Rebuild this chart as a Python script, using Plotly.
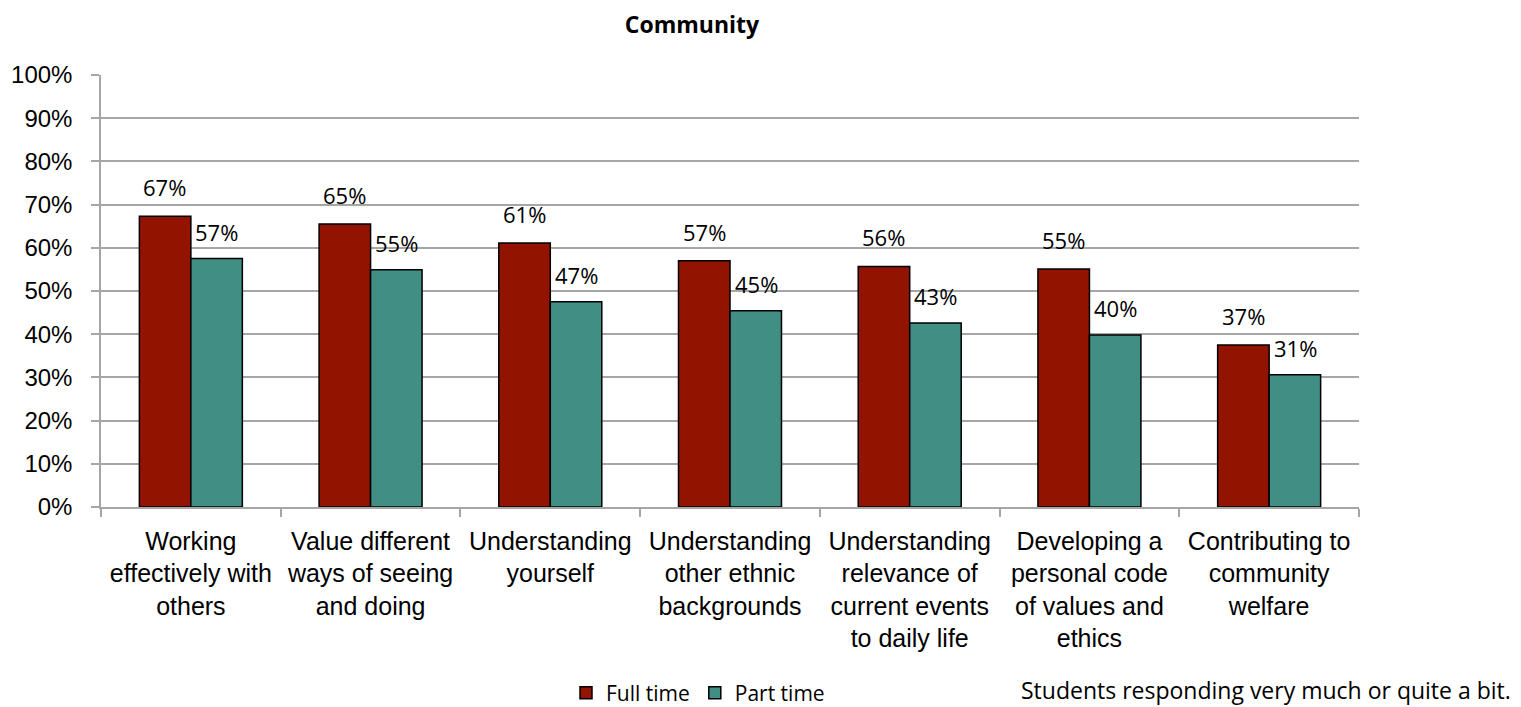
import plotly.graph_objects as go

categories = [
    "Working<br>effectively with<br>others",
    "Value different<br>ways of seeing<br>and doing",
    "Understanding<br>yourself",
    "Understanding<br>other ethnic<br>backgrounds",
    "Understanding<br>relevance of<br>current events<br>to daily life",
    "Developing a<br>personal code<br>of values and<br>ethics",
    "Contributing to<br>community<br>welfare",
]
full_time = [67.3, 65.5, 61.1, 57.0, 55.7, 55.1, 37.5]
part_time = [57.5, 54.9, 47.5, 45.4, 42.6, 39.8, 30.6]
full_labels = ["67%", "65%", "61%", "57%", "56%", "55%", "37%"]
part_labels = ["57%", "55%", "47%", "45%", "43%", "40%", "31%"]
y_ticks = list(range(0, 101, 10))
y_tick_text = [f"{v}%" for v in y_ticks]

RED = "#921300"
TEAL = "#418E85"
GRID = "#A6A6A6"

W, H = 1513, 699  # page body has an 8px margin

fig = go.Figure()
fig.add_trace(go.Bar(
    name="Full time", x=categories, y=full_time,
    marker=dict(color=RED, line=dict(color="black", width=1.5)),
))
fig.add_trace(go.Bar(
    name="Part time", x=categories, y=part_time,
    marker=dict(color=TEAL, line=dict(color="black", width=1.5)),
))

label_font = dict(family="Open Sans", size=22, color="black")
for c, v, t in zip(categories, full_time, full_labels):
    fig.add_annotation(x=c, y=v, text=t, xref="x", yref="y", showarrow=False,
                       xshift=-26, yshift=29, yanchor="middle", font=label_font)
for c, v, t in zip(categories, part_time, part_labels):
    fig.add_annotation(x=c, y=v, text=t, xref="x", yref="y", showarrow=False,
                       xshift=26, yshift=27, yanchor="middle", font=label_font)

fig.add_annotation(
    text="Students responding very much or quite a bit.",
    xref="paper", yref="paper", x=1.1224, y=-0.4236, xanchor="right", yanchor="middle",
    showarrow=False, font=dict(family="Open Sans", size=23, color="black"),
)

fig.update_layout(
    width=W, height=H,
    margin=dict(l=93, r=162, t=67, b=200, autoexpand=False),
    paper_bgcolor="white", plot_bgcolor="white",
    barmode="group", bargap=0.427, bargroupgap=0,
    title=dict(text="<b>Community</b>", x=684 / W, xanchor="center", y=1 - 17 / H,
               yanchor="middle", font=dict(family="Open Sans", size=23, color="black")),
    showlegend=True,
    legend=dict(orientation="h", xref="container", yref="container",
                x=690 / W, xanchor="center", y=1 - 685 / H, yanchor="middle",
                font=dict(family="Open Sans", size=21, color="black"),
                itemwidth=30, traceorder="normal", bgcolor="rgba(0,0,0,0)"),
    font=dict(family="Liberation Sans, Arial", color="black"),
)
fig.update_yaxes(
    range=[0, 100], tickvals=y_ticks, ticktext=y_tick_text,
    showgrid=True, gridcolor=GRID, gridwidth=1.5,
    showline=True, linecolor=GRID, linewidth=1.5,
    ticks="outside", ticklen=8, tickcolor=GRID, tickwidth=1.5,
    ticklabelstandoff=14,
    tickfont=dict(family="Liberation Sans, Arial", size=24, color="black"),
    zeroline=False, automargin=False,
)
fig.update_xaxes(
    showline=True, linecolor=GRID, linewidth=1.5,
    ticks="outside", ticklen=8, tickcolor=GRID, tickwidth=1.5, tickson="boundaries",
    tickangle=0, ticklabelstandoff=11,
    tickfont=dict(family="Liberation Sans, Arial", size=25, color="black"),
    automargin=False,
)

fig.write_html("out.html")
